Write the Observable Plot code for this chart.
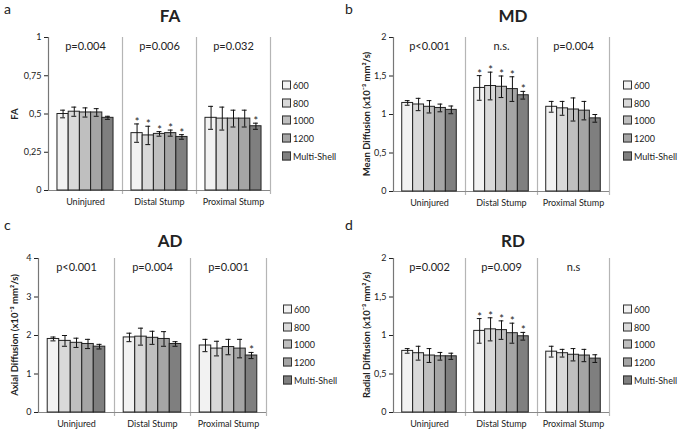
<!DOCTYPE html>
<html>
<head>
<meta charset="utf-8">
<script src="https://cdn.jsdelivr.net/npm/d3@7"></script>
<script src="https://cdn.jsdelivr.net/npm/@observablehq/plot@0.6"></script>
<style>
  html, body { margin: 0; padding: 0; background: #fff; }
  #root { position: relative; width: 685px; height: 432px; overflow: hidden; background: #fff; font-family: Lato, "Open Sans", sans-serif; color: #222; }
  .abs { position: absolute; }
  .title { font-weight: bold; font-size: 17px; transform: translate(-50%, -50%); white-space: nowrap; }
  .letter { font-size: 14px; line-height: 16px; }
  .ytitle { font-weight: bold; font-size: 9.5px; white-space: nowrap; transform: translate(-50%, -50%) rotate(-90deg); }
  .leg { font-size: 9px; display: flex; align-items: center; white-space: nowrap; transform: translateY(-50%); }
  .sw { width: 7px; height: 7px; border: 1px solid #333; margin-right: 2px; }
</style>
</head>
<body>
<div id="root"></div>
<script>
// ---------- data ----------
const categories = ["Uninjured", "Distal Stump", "Proximal Stump"];
const shells = ["600", "800", "1000", "1200", "Multi-Shell"];
const shellColors = ["#f2f2f2", "#d9d9d9", "#bfbfbf", "#a5a5a5", "#7f7f7f"];

// FA
const faMean = [[0.50, 0.515, 0.51, 0.51, 0.475], [0.375, 0.36, 0.37, 0.375, 0.35], [0.475, 0.47, 0.47, 0.47, 0.42]];
const faErr  = [[0.025, 0.03, 0.03, 0.025, 0.01], [0.06, 0.06, 0.015, 0.02, 0.015], [0.075, 0.075, 0.055, 0.055, 0.02]];
const faStar = [[0, 0, 0, 0, 0], [1, 1, 1, 1, 1], [0, 0, 0, 0, 1]];
const faP = ["p=0.004", "p=0.006", "p=0.032"];
const faTicks = [0, 0.25, 0.5, 0.75, 1];

// MD
const mdMean = [[1.15, 1.13, 1.10, 1.085, 1.06], [1.345, 1.37, 1.36, 1.33, 1.25], [1.10, 1.08, 1.065, 1.05, 0.95]];
const mdErr  = [[0.03, 0.08, 0.08, 0.05, 0.05], [0.16, 0.18, 0.14, 0.16, 0.05], [0.07, 0.09, 0.15, 0.12, 0.05]];
const mdStar = [[0, 0, 0, 0, 0], [1, 1, 1, 1, 1], [0, 0, 0, 0, 0]];
const mdP = ["p<0.001", "n.s.", "p=0.004"];
const mdTicks = [0, 0.5, 1, 1.5, 2];

// AD
const adMean = [[1.91, 1.86, 1.81, 1.78, 1.71], [1.95, 1.97, 1.94, 1.91, 1.78], [1.74, 1.66, 1.70, 1.66, 1.48]];
const adErr  = [[0.05, 0.14, 0.12, 0.12, 0.06], [0.11, 0.22, 0.17, 0.19, 0.06], [0.16, 0.19, 0.20, 0.24, 0.08]];
const adStar = [[0, 0, 0, 0, 0], [0, 0, 0, 0, 0], [0, 0, 0, 0, 1]];
const adP = ["p<0.001", "p=0.004", "p=0.001"];
const adTicks = [0, 1, 2, 3, 4];

// RD
const rdMean = [[0.80, 0.77, 0.74, 0.73, 0.73], [1.06, 1.08, 1.07, 1.03, 0.99], [0.79, 0.77, 0.75, 0.74, 0.70]];
const rdErr  = [[0.03, 0.09, 0.09, 0.05, 0.04], [0.16, 0.15, 0.12, 0.13, 0.05], [0.07, 0.05, 0.08, 0.08, 0.05]];
const rdStar = [[0, 0, 0, 0, 0], [1, 1, 1, 1, 1], [0, 0, 0, 0, 0]];
const rdP = ["p=0.002", "p=0.009", "n.s"];
const rdTicks = [0, 0.5, 1, 1.5, 2];

const yTitleUnits = " (x10\u207B\u00B3 mm\u00B2/s)";

// ---------- layout ----------
const panels = [
  {letter: "a", title: "FA", ytitle: "FA", mean: faMean, err: faErr, star: faStar, p: faP, ticks: faTicks,
   left: 0, top: 0, width: 280, height: 215, mt: 37, mb: 25, ml: 48, mr: 10,
   titleX: 170, titleY: 15, letterX: 4, letterY: 1, ytX: 14, legX: 282, legY: 85},
  {letter: "b", title: "MD", ytitle: "Mean Diffusion" + yTitleUnits, mean: mdMean, err: mdErr, star: mdStar, p: mdP, ticks: mdTicks,
   left: 340, top: 0, width: 282, height: 215, mt: 37, mb: 24, ml: 52, mr: 12,
   titleX: 513, titleY: 15, letterX: 345, letterY: 1, ytX: 366, legX: 623, legY: 85},
  {letter: "c", title: "AD", ytitle: "Axial Diffusion" + yTitleUnits, mean: adMean, err: adErr, star: adStar, p: adP, ticks: adTicks,
   left: 0, top: 215, width: 276, height: 217, mt: 43, mb: 20, ml: 38, mr: 10,
   titleX: 170, titleY: 240, letterX: 4, letterY: 217, ytX: 14, legX: 283, legY: 309},
  {letter: "d", title: "RD", ytitle: "Radial Diffusion" + yTitleUnits, mean: rdMean, err: rdErr, star: rdStar, p: rdP, ticks: rdTicks,
   left: 340, top: 215, width: 282, height: 217, mt: 43, mb: 20, ml: 52, mr: 12,
   titleX: 513, titleY: 240, letterX: 345, letterY: 217, ytX: 366, legX: 623, legY: 309}
];

const root = document.getElementById("root");
const xMin = -0.8, xMax = 5.8;
const fmt = d => String(d).replace(".", ",");

function addDiv(cls, x, y, text) {
  const el = document.createElement("div");
  el.className = "abs " + cls;
  el.style.left = x + "px";
  el.style.top = y + "px";
  if (text != null) el.textContent = text;
  root.appendChild(el);
  return el;
}

for (const P of panels) {
  const rows = categories.flatMap((cat, ci) => shells.map((s, si) => ({
    cat, shell: s, i: si, mean: P.mean[ci][si], err: P.err[ci][si], star: P.star[ci][si]
  })));
  const yMax = P.ticks[P.ticks.length - 1];
  const chart = Plot.plot({
    width: P.width, height: P.height,
    marginTop: P.mt, marginBottom: P.mb, marginLeft: P.ml, marginRight: P.mr,
    style: {fontFamily: "Lato, 'Open Sans', sans-serif", fontSize: "9px", background: "white", color: "#222", overflow: "visible"},
    x: {domain: [xMin, xMax], axis: null},
    y: {domain: [0, yMax], ticks: P.ticks, tickFormat: fmt, tickSize: 4, tickPadding: 3, label: null},
    fx: {domain: categories, padding: 0, axis: "bottom", label: null, tickSize: 0, tickPadding: 8},
    color: {domain: shells, range: shellColors},
    marks: [
      Plot.ruleX(categories, {fx: d => d, x: () => xMax, stroke: "#b5b5b5", strokeWidth: 1.2, insetBottom: -4}),
      Plot.ruleX([categories[0]], {fx: d => d, x: () => xMin, stroke: "#777", strokeWidth: 1.2}),
      Plot.ruleY([0], {stroke: "#888", strokeWidth: 1.2}),
      Plot.rect(rows, {fx: "cat", x1: d => d.i, x2: d => d.i + 1, y1: 0, y2: "mean", fill: "shell", stroke: "#222", strokeWidth: 1}),
      Plot.ruleX(rows, {fx: "cat", x: d => d.i + 0.5, y1: d => d.mean - d.err, y2: d => d.mean + d.err, stroke: "#111", strokeWidth: 1}),
      Plot.ruleY(rows, {fx: "cat", y: d => d.mean + d.err, x1: d => d.i + 0.28, x2: d => d.i + 0.72, stroke: "#111", strokeWidth: 1}),
      Plot.ruleY(rows, {fx: "cat", y: d => d.mean - d.err, x1: d => d.i + 0.28, x2: d => d.i + 0.72, stroke: "#111", strokeWidth: 1}),
      Plot.text(rows.filter(d => d.star), {fx: "cat", x: d => d.i + 0.5, y: d => d.mean + d.err, text: () => "*", lineAnchor: "bottom", dy: 2, fontSize: 11, fill: "#222"}),
      Plot.text(categories, {fx: d => d, text: (d, i) => P.p[i], frameAnchor: "top", lineAnchor: "middle", dy: 9, fontSize: 11, fill: "#222"})
    ]
  });
  chart.style.position = "absolute";
  chart.style.left = P.left + "px";
  chart.style.top = P.top + "px";
  root.appendChild(chart);

  addDiv("title", P.titleX, P.titleY, P.title);
  addDiv("letter", P.letterX, P.letterY, P.letter);
  addDiv("ytitle", P.ytX, P.top + P.mt + (P.height - P.mt - P.mb) / 2, P.ytitle);

  shells.forEach((s, k) => {
    const el = addDiv("leg", P.legX, P.legY + k * 17.7, null);
    const sw = document.createElement("div");
    sw.className = "sw";
    sw.style.background = shellColors[k];
    el.appendChild(sw);
    el.appendChild(document.createTextNode(s));
  });
}
</script>
</body>
</html>
